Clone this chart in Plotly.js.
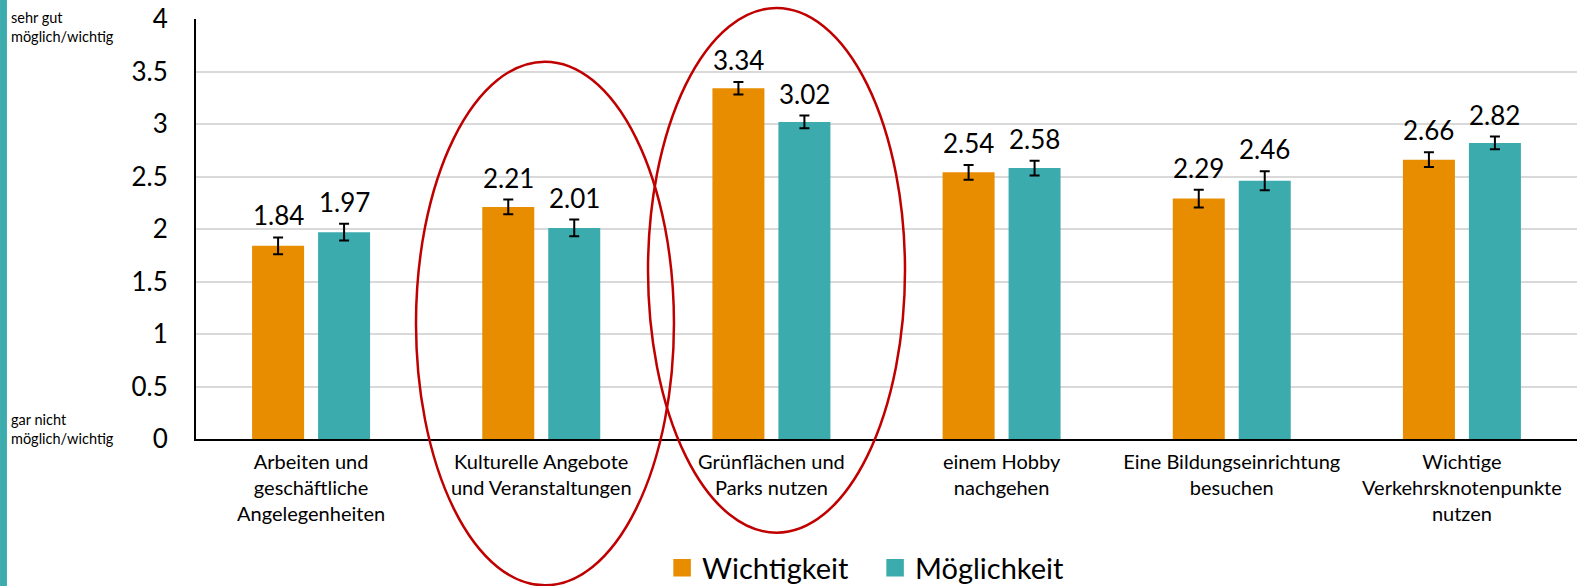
<!DOCTYPE html>
<html>
<head>
<meta charset="utf-8">
<script src="https://cdn.plot.ly/plotly-3.0.1.min.js"></script>
<style>
html,body{margin:0;padding:0;background:#fff;}
#chart{width:1585px;height:586px;}
</style>
</head>
<body>
<div id="chart"></div>
<script>
// ---- data ----
const categories = [
  "Arbeiten und<br>geschäftliche<br>Angelegenheiten",
  "Kulturelle Angebote<br>und Veranstaltungen",
  "Grünflächen und<br>Parks nutzen",
  "einem Hobby<br>nachgehen",
  "Eine Bildungseinrichtung<br>besuchen",
  "Wichtige<br>Verkehrsknotenpunkte<br>nutzen"
];
const wichtigkeit = [1.84, 2.21, 3.34, 2.54, 2.29, 2.66];
const wichtigkeitErr = [0.08, 0.07, 0.06, 0.07, 0.085, 0.07];
const moeglichkeit = [1.97, 2.01, 3.02, 2.58, 2.46, 2.82];
const moeglichkeitErr = [0.08, 0.08, 0.06, 0.07, 0.09, 0.06];
const seriesNames = ["Wichtigkeit", "Möglichkeit"];
const yTickVals = [0, 0.5, 1, 1.5, 2, 2.5, 3, 3.5, 4];
const yTickText = ["0", "0.5", "1", "1.5", "2", "2.5", "3", "3.5", "4"];

// ---- style ----
const ORANGE = "#E88C00";
const TEAL = "#3BABAD";
const FONT = "Lato, 'Open Sans', sans-serif";
const BARGAP = 0.4266;
const BARGROUPGAP = 0.212;

const idx = categories.map((c, i) => i);

function barTrace(name, vals, errs, color) {
  return {
    type: "bar", name: name, x: idx, y: vals,
    marker: {color: color},
    error_y: {type: "data", array: errs, visible: true, color: "#000", thickness: 2, width: 5},
    showlegend: false, hoverinfo: "skip"
  };
}
function legendTrace(name, color) {
  return {
    type: "scatter", mode: "markers", name: name, x: [null], y: [null],
    marker: {symbol: "square", size: 16, color: color, line: {color: color, width: 1.5}},
    showlegend: true
  };
}

const data = [
  barTrace(seriesNames[0], wichtigkeit, wichtigkeitErr, ORANGE),
  barTrace(seriesNames[1], moeglichkeit, moeglichkeitErr, TEAL),
  legendTrace(seriesNames[0], ORANGE),
  legendTrace(seriesNames[1], TEAL)
];

const off = (1 - BARGAP) / 4;
const annotations = [];
[[wichtigkeit, wichtigkeitErr, -off], [moeglichkeit, moeglichkeitErr, off]].forEach(([vals, errs, dx]) => {
  vals.forEach((v, i) => {
    annotations.push({
      x: i + dx, y: v + errs[i], xref: "x", yref: "y",
      text: v.toFixed(2), showarrow: false, yanchor: "bottom", yshift: 4,
      font: {family: FONT, size: 26, color: "#000"}
    });
  });
});
annotations.push({
  xref: "paper", yref: "paper", x: -0.1355, y: 0.981, xanchor: "left", yanchor: "middle",
  align: "left", showarrow: false, text: "sehr gut<br>möglich/wichtig",
  font: {family: FONT, size: 14.5, color: "#000"}
});
annotations.push({
  xref: "paper", yref: "paper", x: -0.1355, y: 0.025, xanchor: "left", yanchor: "middle",
  align: "left", showarrow: false, text: "gar nicht<br>möglich/wichtig",
  font: {family: FONT, size: 14.5, color: "#000"}
});

const shapes = [
  {type: "rect", xref: "paper", yref: "paper", x0: -0.1419, x1: -0.1369, y0: -0.5, y1: 1.1,
   fillcolor: TEAL, line: {width: 0}, layer: "below"},
  {type: "circle", xref: "paper", yref: "paper", x0: 0.1593, x1: 0.3461, y0: -0.3484, y1: 0.8985,
   line: {color: "#C00000", width: 2.5}, layer: "above"},
  {type: "circle", xref: "paper", yref: "paper", x0: 0.3273, x1: 0.5134, y0: -0.2231, y1: 1.0262,
   line: {color: "#C00000", width: 2.5}, layer: "above"}
];

const layout = {
  width: 1585, height: 586,
  margin: {l: 196, r: 8, t: 19, b: 146.5, pad: 0, autoexpand: false},
  paper_bgcolor: "#fff", plot_bgcolor: "#fff",
  font: {family: FONT, color: "#000"},
  barmode: "group", bargap: BARGAP, bargroupgap: BARGROUPGAP,
  xaxis: {
    type: "linear", range: [-0.5, categories.length - 0.5],
    tickmode: "array", tickvals: idx, ticktext: categories,
    tickfont: {family: FONT, size: 20, color: "#000"},
    showgrid: false, zeroline: false, showline: true, linecolor: "#000", linewidth: 2,
    ticks: "", ticklabelstandoff: 4, fixedrange: true
  },
  yaxis: {
    range: [0, 4], tickmode: "array", tickvals: yTickVals, ticktext: yTickText,
    tickfont: {family: FONT, size: 26, color: "#000"},
    showgrid: true, gridcolor: "#D9D9D9", gridwidth: 2,
    zeroline: false, showline: true, linecolor: "#000", linewidth: 2,
    ticks: "", ticklabelstandoff: 21, fixedrange: true
  },
  legend: {
    orientation: "h", yref: "container", x: 0.3375, xanchor: "left", y: 0.031, yanchor: "middle",
    font: {family: FONT, size: 29, color: "#000"},
    bgcolor: "rgba(0,0,0,0)", entrywidth: 168, entrywidthmode: "pixels"
  },
  annotations: annotations,
  shapes: shapes,
  showlegend: true
};

Plotly.newPlot("chart", data, layout, {displayModeBar: false, staticPlot: true});
</script>
</body>
</html>
